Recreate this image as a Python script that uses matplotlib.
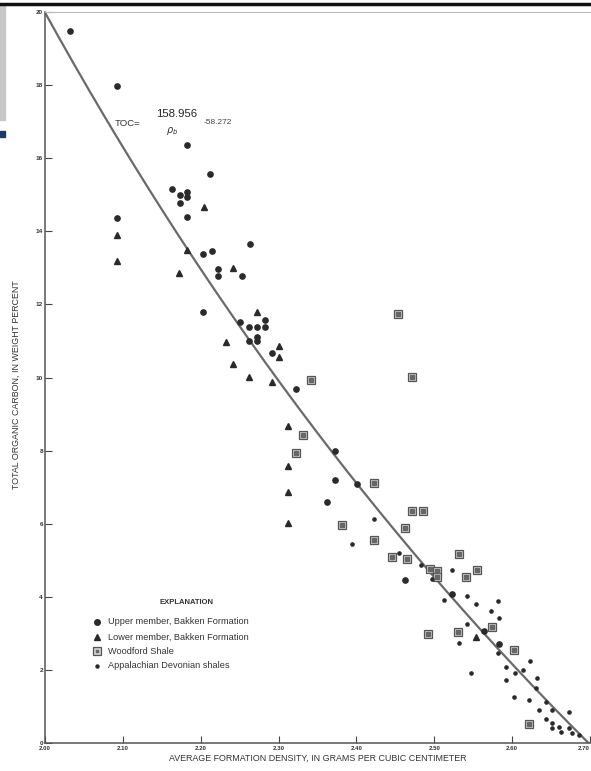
import numpy as np
import matplotlib
matplotlib.use("Agg")
import matplotlib.pyplot as plt
from matplotlib.lines import Line2D
from matplotlib.patches import Rectangle

plt.rcParams['font.family'] = ['Liberation Sans', 'DejaVu Sans']

# Upper member, Bakken Formation (density g/cc, TOC wt %)
upper_rho = [2.032, 2.092, 2.183, 2.212, 2.163, 2.173, 2.183, 2.183, 2.173, 2.092,
             2.183, 2.263, 2.214, 2.203, 2.222, 2.222, 2.253, 2.203, 2.251, 2.262,
             2.272, 2.283, 2.283, 2.262, 2.272, 2.272, 2.292, 2.322, 2.372, 2.372,
             2.401, 2.362, 2.463, 2.523, 2.564, 2.583]
upper_toc = [19.48, 17.98, 16.36, 15.57, 15.16, 14.99, 15.08, 14.94, 14.77, 14.36,
             14.39, 13.65, 13.46, 13.38, 12.97, 12.78, 12.78, 11.79, 11.52, 11.38,
             11.38, 11.38, 11.57, 11.00, 11.00, 11.11, 10.67, 9.69, 7.99, 7.20,
             7.09, 6.59, 4.46, 4.08, 3.06, 2.71]

# Lower member, Bakken Formation
lower_rho = [2.092, 2.092, 2.204, 2.182, 2.172, 2.241, 2.272, 2.232, 2.301, 2.301,
             2.241, 2.262, 2.291, 2.312, 2.312, 2.312, 2.312, 2.554]
lower_toc = [13.90, 13.19, 14.66, 13.49, 12.86, 13.00, 11.79, 10.97, 10.86, 10.56,
             10.37, 10.01, 9.88, 8.67, 7.58, 6.87, 6.02, 2.90]

# Woodford Shale
wood_rho = [2.453, 2.472, 2.342, 2.332, 2.323, 2.422, 2.382, 2.472, 2.485, 2.462,
            2.422, 2.446, 2.465, 2.494, 2.503, 2.504, 2.532, 2.541, 2.555, 2.574,
            2.492, 2.531, 2.603, 2.622]
wood_toc = [11.74, 10.01, 9.93, 8.43, 7.93, 7.11, 5.96, 6.35, 6.35, 5.88,
            5.55, 5.09, 5.03, 4.76, 4.71, 4.54, 5.17, 4.54, 4.73, 3.17,
            2.98, 3.04, 2.54, 0.52]

# Appalachian Devonian shales
app_rho = [2.422, 2.394, 2.455, 2.483, 2.523, 2.497, 2.513, 2.542, 2.553, 2.573,
           2.582, 2.583, 2.542, 2.532, 2.547, 2.582, 2.592, 2.623, 2.604, 2.614,
           2.632, 2.592, 2.631, 2.603, 2.622, 2.644, 2.651, 2.635, 2.673, 2.644,
           2.651, 2.651, 2.660, 2.663, 2.673, 2.677, 2.686]
app_toc = [6.13, 5.44, 5.20, 4.87, 4.73, 4.49, 3.91, 4.02, 3.80, 3.61,
           3.89, 3.42, 3.26, 2.74, 1.92, 2.46, 2.08, 2.24, 1.92, 2.00,
           1.78, 1.72, 1.50, 1.26, 1.18, 1.12, 0.90, 0.90, 0.85, 0.66,
           0.55, 0.41, 0.44, 0.30, 0.41, 0.27, 0.22]

# regression line TOC = A / rho - B
line_a = 154.497
line_b = 57.261

xticks = [2.00, 2.10, 2.20, 2.30, 2.40, 2.50, 2.60, 2.70]
yticks = [0, 2, 4, 6, 8, 10, 12, 14, 16, 18, 20]

ink = "#2a2a2a"

fig = plt.figure(figsize=(5.91, 7.71), dpi=100)
ax = fig.add_axes([0.0761, 0.0363, 0.9222, 0.9481])

rho = np.linspace(2.0, 2.70, 300)
ax.plot(rho, line_a / rho - line_b, color="#6a6a6a", lw=1.6, zorder=2)

ax.plot(upper_rho, upper_toc, "o", ms=3.8, color=ink, mec=ink, zorder=3)
ax.plot(lower_rho, lower_toc, "^", ms=4.6, color=ink, mec=ink, zorder=3)
ax.plot(wood_rho, wood_toc, "s", ms=6.2, mfc="#cfcfcf", mec="#555555", mew=0.9, zorder=3)
ax.plot(wood_rho, wood_toc, "s", ms=2.2, mfc="#666666", mec="#666666", zorder=4)
ax.plot(app_rho, app_toc, "o", ms=2.3, color=ink, mec=ink, zorder=3)

ax.set_xlim(2.0, 2.70)
ax.set_ylim(0, 20)
ax.set_xticks(xticks)
xl = ax.set_xticklabels([f"{v:.2f}" for v in xticks], fontsize=4.4, fontweight="bold", color="#333")
xl[-1].set_ha("right")
ax.set_yticks(yticks)
ax.set_yticklabels([str(v) for v in yticks], fontsize=4.6, fontweight="bold", color="#333")
ax.tick_params(direction="in", length=5, width=0.8, color="#444", pad=2)
ax.tick_params(axis="y", pad=1.5)

ax.spines["right"].set_visible(False)
ax.spines["top"].set_color("#bbbbbb")
ax.spines["top"].set_linewidth(0.8)
for s in ["left", "bottom"]:
    ax.spines[s].set_color("#555555")
    ax.spines[s].set_linewidth(1.1)

ax.set_xlabel("AVERAGE FORMATION DENSITY, IN GRAMS PER CUBIC CENTIMETER",
              fontsize=6.4, color="#333", labelpad=2)
ax.set_ylabel("TOTAL ORGANIC CARBON, IN WEIGHT PERCENT",
              fontsize=6.4, color="#333", labelpad=4)
ax.yaxis.set_label_coords(-0.045, 0.49)

# equation
def ft(x, y, s, **kw):
    fig.text(x / 591, 1 - y / 771, s, **kw)

ft(115, 123, "TOC=", fontsize=6.8, color="#333", va="center", ha="left")
ft(177, 114, "158.956", fontsize=8.2, color="#222", va="center", ha="center")
ft(172, 131, r"$\rho_b$", fontsize=7, color="#333", va="center", ha="center")
ft(204, 123, "-58.272", fontsize=6, color="#444", va="center", ha="left")

# explanation
ft(187, 603, "EXPLANATION", fontsize=5.5, fontweight="bold", color="#333", va="center", ha="center")
leg_items = ["Upper member, Bakken Formation", "Lower member, Bakken Formation",
             "Woodford Shale", "Appalachian Devonian shales"]
leg_y = [622, 637, 651, 666]
for lab, y, m in zip(leg_items, leg_y, ["o", "^", "s", "."]):
    fx, fy = 97 / 591, 1 - y / 771
    if m == "s":
        fig.add_artist(Line2D([fx], [fy], marker="s", ms=5.5, mfc="#cfcfcf", mec="#555", mew=0.9))
        fig.add_artist(Line2D([fx], [fy], marker="s", ms=2, mfc="#666", mec="#666"))
    elif m == ".":
        fig.add_artist(Line2D([fx], [fy], marker="o", ms=2.2, color=ink))
    else:
        fig.add_artist(Line2D([fx], [fy], marker=m, ms=4, color=ink))
    ft(108, y, lab, fontsize=6.6, color="#333", va="center", ha="left")

# scan border bits
fig.add_artist(Line2D([0, 1], [1 - 4 / 771, 1 - 4 / 771], color="#111", lw=2.5))
fig.add_artist(Rectangle((0, 1 - 120 / 771), 5 / 591, 115 / 771, color="#c8c8c8"))
fig.add_artist(Rectangle((0, 1 - 137 / 771), 5 / 591, 6 / 771, color="#1a3a6a"))

fig.savefig("out.png", dpi=100)
